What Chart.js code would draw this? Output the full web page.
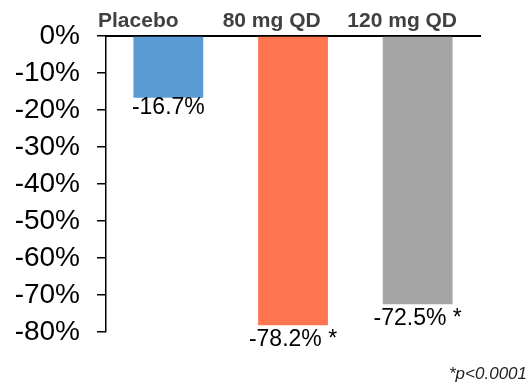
<!DOCTYPE html>
<html>
<head>
<meta charset="utf-8">
<script src="https://cdn.jsdelivr.net/npm/chart.js@4"></script>
<style>
  html, body { margin: 0; padding: 0; background: #fff; }
  #wrap { width: 531px; height: 384px; }
</style>
</head>
<body>
<div id="wrap"><canvas id="chart" width="531" height="384"></canvas></div>
<script>
// 데이터
const categories = ['Placebo', '80 mg QD', '120 mg QD'];
const changeValues = [-16.7, -78.2, -72.5];
const valueLabels = ['-16.7%', '-78.2% *', '-72.5% *'];
const barColors = ['#5B9BD5', '#FF7550', '#A5A5A5'];
const yTicks = [0, -10, -20, -30, -40, -50, -60, -70, -80];
const footnote = '*p<0.0001';

const FONT = '"Liberation Sans", Arial, sans-serif';

// 막대 아래 값 표시 + 위쪽 카테고리 이름
const labelPlugin = {
    id: 'labelPlugin',
    afterDatasetsDraw(chart) {
        const ctx = chart.ctx;
        const meta = chart.getDatasetMeta(0);
        const x = chart.scales.x;
        const catW = x.width / categories.length;
        const gaps = [-2, 3, 3];

        ctx.save();
        ctx.fillStyle = '#000';
        ctx.font = '23px ' + FONT;
        ctx.textAlign = 'center';
        ctx.textBaseline = 'top';
        meta.data.forEach((bar, i) => {
            ctx.fillText(valueLabels[i], bar.x, bar.y + gaps[i]);
        });

        // 카테고리 이름 (굵게)
        ctx.font = 'bold 21px ' + FONT;
        ctx.fillStyle = '#404040';
        ctx.textAlign = 'left';
        ctx.textBaseline = 'alphabetic';
        categories.forEach((c, i) => {
            const start = x.getPixelForValue(i) - catW / 2;
            ctx.fillText(c, start - 8, 27);
        });

        // 각주
        ctx.font = 'italic 17px ' + FONT;
        ctx.fillStyle = '#222';
        ctx.textAlign = 'right';
        ctx.fillText(footnote, 527, 379);
        ctx.restore();
    }
};

const ctx = document.getElementById('chart').getContext('2d');
new Chart(ctx, {
    type: 'bar',
    data: {
        labels: categories,
        datasets: [{
            data: changeValues,
            backgroundColor: barColors,
            borderWidth: 0,
            categoryPercentage: 1.0,
            barPercentage: 0.56
        }]
    },
    options: {
        responsive: false,
        animation: false,
        layout: {
            padding: { top: 36, right: 51, bottom: 52, left: 0 }
        },
        plugins: {
            legend: { display: false },
            tooltip: { enabled: false }
        },
        scales: {
            x: {
                position: 'top',
                ticks: { display: false },
                grid: { display: false },
                border: { display: true, color: '#000', width: 2 },
                afterFit(scale) {
                    scale.height = 0;
                }
            },
            y: {
                min: -80,
                max: 0,
                afterBuildTicks(scale) {
                    scale.ticks = yTicks.map(v => ({ value: v }));
                },
                afterFit(scale) {
                    scale.width = 106;
                },
                ticks: {
                    autoSkip: false,
                    color: '#000',
                    padding: 17,
                    font: { family: FONT, size: 28 },
                    callback: v => v + '%'
                },
                grid: {
                    drawOnChartArea: false,
                    drawTicks: true,
                    tickLength: 9,
                    color: '#000',
                    lineWidth: 1.5
                },
                border: { display: true, color: '#000', width: 1.5 }
            }
        }
    },
    plugins: [labelPlugin]
});
</script>
</body>
</html>
